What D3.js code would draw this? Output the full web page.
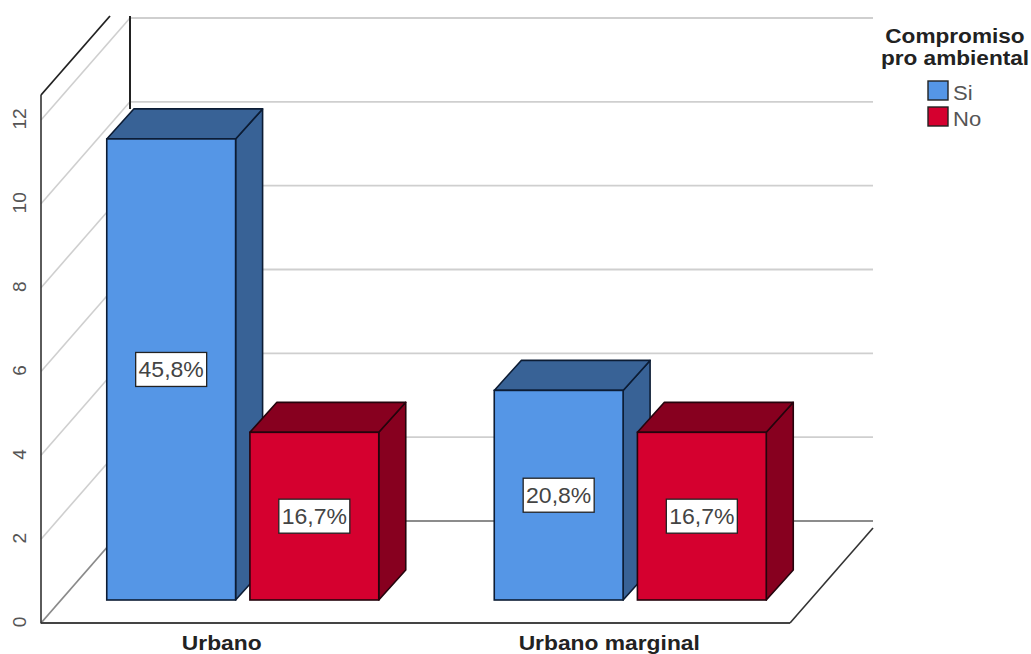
<!DOCTYPE html>
<html><head><meta charset="utf-8">
<script src="https://cdn.jsdelivr.net/npm/d3@7/dist/d3.min.js"></script>
<style>html,body{margin:0;padding:0;background:#fff}svg{display:block}text{font-family:"Liberation Sans",Arial,sans-serif}</style>
</head><body><svg id="c" width="1031" height="654"></svg>
<script>
const categories = ["Urbano", "Urbano marginal"];
const series = ["Si", "No"];
const siValues = [11, 5];
const noValues = [4, 4];
const siLabels = ["45,8%", "20,8%"];
const noLabels = ["16,7%", "16,7%"];
const yTicks = [0, 2, 4, 6, 8, 10, 12];
const legendTitle = ["Compromiso", "pro ambiental"];

const W = {l:41, r:790, front:623, depthX:89, depthY:102, backR:873};
const barDepth = {x:27, y:30};
const barOff = {y:23};
const svg = d3.select("#c");
const y = d3.scaleLinear().domain([0,12]).range([623,120]);
const x0 = d3.scaleBand().domain(categories).range([49,824]);
const x1 = d3.scaleBand().domain(series).range([0,272]).paddingInner(0.1);
const color = d3.scaleOrdinal().domain(series).range(["#5596E6","#D5002F"]);
const dark = d3.scaleOrdinal().domain(series).range(["#386296","#87001F"]);
const edge = d3.scaleOrdinal().domain(series).range(["#0C1C34","#25040D"]);
const xCenterOffset = 193.75;

// widen text horizontally by a factor, keeping its height
const stretch = (sel,k)=>sel.each(function(){
  const t=d3.select(this);
  t.attr("textLength",this.getComputedTextLength()*k).attr("lengthAdjust","spacingAndGlyphs");
});
const line=(x1,y1,x2,y2,c,w)=>svg.append("line").attr("x1",x1).attr("y1",y1).attr("x2",x2).attr("y2",y2).attr("stroke",c).attr("stroke-width",w);

// back-wall and side-wall grid lines
yTicks.filter(t=>t>0).forEach(t=>{
  line(W.l,y(t),W.l+W.depthX,y(t)-W.depthY,"#cfcfcf",1.6);
  line(W.l+W.depthX,y(t)-W.depthY,W.backR,y(t)-W.depthY,"#cfcfcf",1.8);
});
// floor + frame
line(W.l,y(0),W.l+W.depthX,y(0)-W.depthY,"#8a8a8a",1.8);
line(W.l+W.depthX,y(0)-W.depthY,W.backR,y(0)-W.depthY,"#666",1.6);
line(W.l,y(0),W.r,y(0),"#444",2);
line(W.r,y(0),W.backR,528,"#333",1.6);
line(W.l,y(0)+.5,W.l,95,"#333",1.6);
line(W.l,95,110,16,"#222",1.8);
line(W.l+W.depthX,16,W.l+W.depthX,109,"#222",2);

// y tick labels
svg.append("g").selectAll("text").data(yTicks).join("text")
  .attr("transform",d=>`translate(26,${y(d)-1}) rotate(-90)`)
  .attr("text-anchor","middle").attr("font-size",18).attr("fill","#555").text(d=>d).call(stretch,1.06);

// bars
const rows = [];
categories.forEach((c,i)=>{
  rows.push({c,s:"Si",v:siValues[i],label:siLabels[i]});
  rows.push({c,s:"No",v:noValues[i],label:noLabels[i]});
});
const g = svg.append("g").selectAll("g").data(rows).join("g");
const base = 623-barOff.y;
const yBar = v=>y(v)-barOff.y;
const bx = d=>x0(d.c)+xCenterOffset-136+x1(d.s)+0;
const pts=a=>a.map(p=>p.join(",")).join(" ");
g.append("polygon") // side
  .attr("points",d=>{const r=bx(d)+x1.bandwidth();return pts([[r,yBar(d.v)],[r+barDepth.x,yBar(d.v)-barDepth.y],[r+barDepth.x,base-barDepth.y],[r,base]]);})
  .attr("fill",d=>dark(d.s)).attr("stroke",d=>edge(d.s)).attr("stroke-width",1.6).attr("stroke-linejoin","round");
g.append("polygon") // top
  .attr("points",d=>{const l=bx(d),r=l+x1.bandwidth(),t=yBar(d.v);return pts([[l,t],[l+barDepth.x,t-barDepth.y],[r+barDepth.x,t-barDepth.y],[r,t]]);})
  .attr("fill",d=>dark(d.s)).attr("stroke",d=>edge(d.s)).attr("stroke-width",1.6).attr("stroke-linejoin","round");
g.append("rect") // front
  .attr("x",bx).attr("y",d=>yBar(d.v)).attr("width",x1.bandwidth()).attr("height",d=>base-yBar(d.v))
  .attr("fill",d=>color(d.s)).attr("stroke",d=>edge(d.s)).attr("stroke-width",1.6);

// value labels
const lw=71, lh=34;
g.append("rect")
  .attr("x",d=>bx(d)+x1.bandwidth()/2-lw/2).attr("y",d=>(yBar(d.v)+base)/2-lh/2)
  .attr("width",lw).attr("height",lh).attr("fill","#fff").attr("stroke","#222").attr("stroke-width",1.3);
g.append("text")
  .attr("x",d=>bx(d)+x1.bandwidth()/2).attr("y",d=>(yBar(d.v)+base)/2+8)
  .attr("text-anchor","middle").attr("font-size",21.5).attr("fill","#444").text(d=>d.label).call(stretch,1.07);

// category labels
svg.append("g").selectAll("text").data(categories).join("text")
  .attr("x",d=>x0(d)+xCenterOffset-21).attr("y",650)
  .attr("text-anchor","middle").attr("font-size",20).attr("font-weight","bold").attr("fill","#222").text(d=>d).call(stretch,1.14);

// legend
svg.append("g").selectAll("text").data(legendTitle).join("text")
  .attr("x",955).attr("y",(d,i)=>43+i*22)
  .attr("text-anchor","middle").attr("font-size",20).attr("font-weight","bold").attr("fill","#222").text(d=>d).call(stretch,1.13);
const lg = svg.append("g").selectAll("g").data(series).join("g");
lg.append("rect").attr("x",928).attr("y",(d,i)=>81+i*26).attr("width",20).attr("height",19)
  .attr("fill",d=>color(d)).attr("stroke","#222").attr("stroke-width",1.4);
lg.append("text").attr("x",953).attr("y",(d,i)=>100+i*26).attr("font-size",21).attr("fill","#555").text(d=>d).call(stretch,1.05);
</script></body></html>
